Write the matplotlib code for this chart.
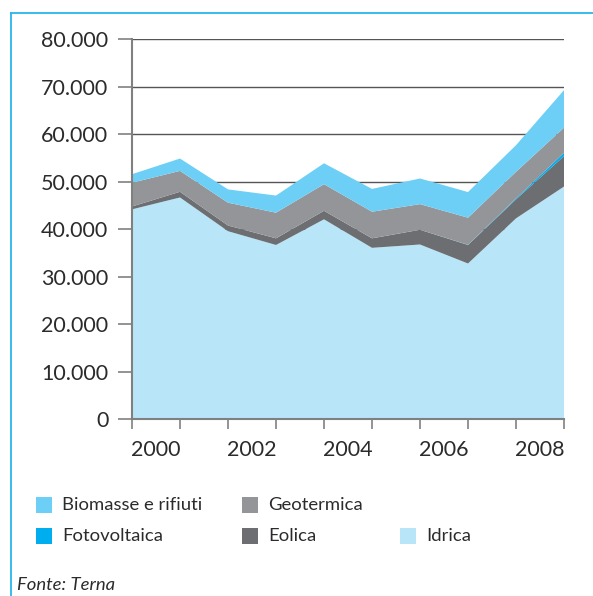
import matplotlib
matplotlib.use("Agg")
import matplotlib.pyplot as plt
from matplotlib.patches import Rectangle
from matplotlib.lines import Line2D
from matplotlib.ticker import FuncFormatter

years = [2000, 2001, 2002, 2003, 2004, 2005, 2006, 2007, 2008, 2009]
year_labels = ["2000", "2002", "2004", "2006", "2008"]
idrica = [44200, 46700, 39600, 36700, 42100, 36100, 36800, 32800, 42300, 49000]
eolica = [600, 1200, 1200, 1400, 1800, 2000, 3100, 3900, 4000, 6400]
fotovoltaica = [0, 0, 0, 0, 0, 0, 0, 40, 200, 700]
geotermica = [5000, 4400, 4800, 5400, 5600, 5600, 5400, 5700, 5600, 5300]
biomasse = [1800, 2600, 2800, 3600, 4400, 4800, 5400, 5400, 5600, 7900]
y_ticks = [0, 10000, 20000, 30000, 40000, 50000, 60000, 70000, 80000]

c_bio = "#6dcff6"
c_foto = "#00aeef"
c_geo = "#939598"
c_eol = "#6d6e71"
c_idr = "#b9e5f9"
txt = "#2b2b2b"

plt.rcParams['font.family'] = ['Lato', 'DejaVu Sans']

fig = plt.figure(figsize=(5.93, 5.96), dpi=100)
ax = fig.add_axes([132/593, 1 - 419.3/596, 432/593, 380/596])

x = list(range(len(years)))
ax.stackplot(x, idrica, eolica, fotovoltaica, geotermica, biomasse,
             colors=[c_idr, c_eol, c_foto, c_geo, c_bio], linewidth=0, zorder=2)

ax.set_xlim(0, 9)
ax.set_ylim(0, 80000)
ax.set_yticks(y_ticks)
ax.yaxis.set_major_formatter(FuncFormatter(lambda v, p: f"{int(v):,}".replace(",", ".")))
ax.grid(axis='y', color='#555555', linewidth=1.0, zorder=0)
ax.set_axisbelow(True)

ax.set_xticks(x)
ax.set_xticklabels([""] * len(x))
for i, yr in enumerate(years):
    if str(yr) in year_labels:
        ax.text(i - 0.02, -0.055, str(yr), transform=ax.get_xaxis_transform(),
                ha='left', va='top', fontsize=15.5, color=txt)

for s in ['top', 'right']:
    ax.spines[s].set_visible(False)
ax.spines['left'].set_color('#808080')
ax.spines['left'].set_linewidth(1.5)
ax.spines['bottom'].set_color('#808080')
ax.spines['bottom'].set_linewidth(1.5)
ax.tick_params(axis='y', length=10, width=1.2, color='#808080', pad=7,
               labelsize=15.5, labelcolor=txt)
ax.tick_params(axis='x', length=7, width=1.2, color='#808080')

# legend
items = [("Biomasse e rifiuti", c_bio, 36, 505), ("Geotermica", c_geo, 242, 505),
         ("Fotovoltaica", c_foto, 36, 536), ("Eolica", c_eol, 242, 536),
         ("Idrica", c_idr, 400, 536)]
for label, col, px, py in items:
    fig.patches.append(Rectangle((px/593, 1 - (py + 8)/596), 16/593, 16/596,
                                 transform=fig.transFigure, facecolor=col,
                                 edgecolor='none'))
    fig.text((px + 26)/593, 1 - py/596, label, ha='left', va='center',
             fontsize=13.3, color=txt)

fig.text(17/593, 1 - 585/596, "Fonte: Terna", ha='left', va='center',
         fontsize=13.3, style='italic', color=txt)

# frame lines
fig.lines.append(Line2D([11/593, 11/593], [0, 1 - 12.5/596], transform=fig.transFigure,
                        color='#29b6e8', linewidth=1.3))
fig.lines.append(Line2D([11/593, 1], [1 - 12.5/596, 1 - 12.5/596], transform=fig.transFigure,
                        color='#29b6e8', linewidth=1.3))

fig.savefig("out.png", dpi=100)
